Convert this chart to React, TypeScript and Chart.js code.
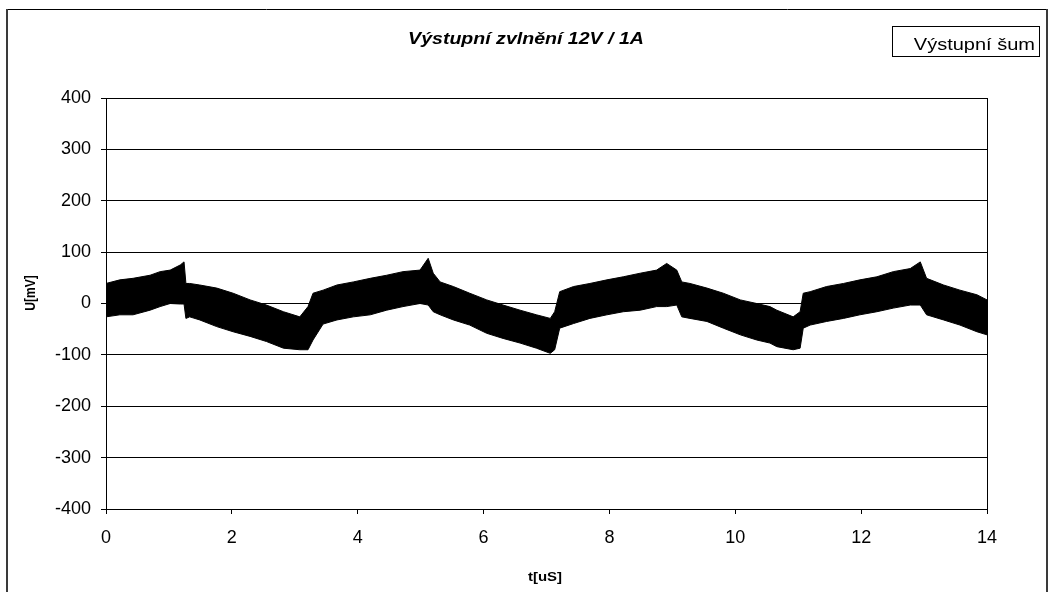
import React, { useEffect, useRef } from "react";
import { Chart, registerables } from "chart.js";

Chart.register(...registerables);

const TITLE = "Výstupní zvlnění 12V / 1A";
const SERIES_LABEL = "Výstupní šum";
const X_TITLE = "t[uS]";
const Y_TITLE = "U[mV]";
const X_TICKS = [0, 2, 4, 6, 8, 10, 12, 14];
const Y_TICKS = [-400, -300, -200, -100, 0, 100, 200, 300, 400];

// time [uS]
const T = [
  0.0, 0.22, 0.43, 0.7, 0.86, 1.02, 1.18, 1.24, 1.27, 1.33, 1.49, 1.76, 2.02, 2.29, 2.55, 2.82, 3.08, 3.21, 3.29,
  3.45, 3.67, 3.93, 4.2, 4.46, 4.72, 4.99, 5.12, 5.2, 5.31, 5.52, 5.78, 6.05, 6.31, 6.58, 6.84, 7.06, 7.13,
  7.21, 7.43, 7.69, 7.96, 8.22, 8.49, 8.75, 8.91, 9.07, 9.15, 9.28, 9.55, 9.81, 10.08, 10.34, 10.55, 10.66,
  10.92, 11.03, 11.08, 11.19, 11.45, 11.72, 11.98, 12.25, 12.51, 12.78, 12.94, 13.04, 13.31, 13.57, 13.84, 14.0,
];
// upper envelope of the noise [mV]
const HI = [
  39, 46, 49, 55, 62, 65, 75, 81, 39, 39, 36, 30, 20, 7, -3, -16, -26, -6, 20,
  26, 36, 42, 49, 55, 62, 65, 88, 59, 42, 33, 20, 7, -3, -13, -22, -29, -16,
  23, 33, 39, 46, 52, 59, 65, 78, 65, 42, 39, 30, 20, 7, 0, -6, -13,
  -26, -16, 20, 23, 33, 39, 46, 52, 62, 68, 81, 49, 36, 26, 17, 7,
];
// lower envelope of the noise [mV]
const LO = [
  -26, -22, -22, -13, -6, 0, -1, -1, -29, -26, -32, -45, -55, -64, -74, -87, -90, -90, -71,
  -40, -32, -26, -22, -13, -6, 0, -3, -16, -22, -32, -42, -58, -68, -77, -87, -97, -90,
  -48, -39, -29, -22, -16, -13, -6, -6, -3, -26, -29, -35, -48, -61, -71, -77, -84,
  -90, -87, -48, -42, -35, -29, -22, -16, -9, -3, -3, -22, -32, -42, -55, -61,
];

const FONT = '"Liberation Sans", Arial, sans-serif';

const decor = {
  id: "decor",
  afterDraw(chart: any) {
    const ctx = chart.ctx as CanvasRenderingContext2D;
    const ca = chart.chartArea;
    ctx.save();
    // outer frame
    ctx.strokeStyle = "#000";
    ctx.lineWidth = 1;
    ctx.beginPath();
    ctx.moveTo(6, 9.5);
    ctx.lineTo(1048, 9.5);
    ctx.stroke();
    ctx.strokeStyle = "#3a3a3a";
    ctx.lineWidth = 2;
    ctx.beginPath();
    ctx.moveTo(7, 9);
    ctx.lineTo(7, 592);
    ctx.moveTo(1047, 9);
    ctx.lineTo(1047, 592);
    ctx.stroke();
    // plot area right border
    ctx.strokeStyle = "#000";
    ctx.lineWidth = 1;
    ctx.beginPath();
    ctx.moveTo(Math.round(ca.right) + 0.5, ca.top);
    ctx.lineTo(Math.round(ca.right) + 0.5, ca.bottom);
    ctx.stroke();

    ctx.fillStyle = "#000";
    // title
    ctx.font = `italic bold 17px ${FONT}`;
    ctx.textAlign = "center";
    ctx.textBaseline = "alphabetic";
    ctx.save();
    ctx.translate(526, 44);
    ctx.scale(1.15, 1);
    ctx.fillText(TITLE, 0, 0);
    ctx.restore();

    // legend
    ctx.lineWidth = 1;
    ctx.strokeRect(892.5, 26.5, 147, 30);
    ctx.font = `16px ${FONT}`;
    ctx.textAlign = "right";
    ctx.save();
    ctx.translate(1035, 50);
    ctx.scale(1.25, 1);
    ctx.fillText(chart.data.datasets[0].label, 0, 0);
    ctx.restore();

    // x title
    ctx.font = `bold 13px ${FONT}`;
    ctx.textAlign = "center";
    ctx.save();
    ctx.translate(545, 581);
    ctx.scale(1.15, 1);
    ctx.fillText(X_TITLE, 0, 0);
    ctx.restore();

    // y title
    ctx.font = `bold 12px ${FONT}`;
    ctx.textBaseline = "middle";
    ctx.save();
    ctx.translate(31.5, 293);
    ctx.rotate(-Math.PI / 2);
    ctx.scale(1, 1.2);
    ctx.fillText(Y_TITLE, 0, 0);
    ctx.restore();

    ctx.restore();
  },
};

export default function App() {
  const ref = useRef<HTMLCanvasElement | null>(null);
  useEffect(() => {
    const canvas = ref.current!;
    const hiData = T.map((t, i) => ({ x: t, y: HI[i] }));
    const loData = T.map((t, i) => ({ x: t, y: LO[i] }));
    const chart = new Chart(canvas, {
      type: "line",
      data: {
        datasets: [
          {
            label: SERIES_LABEL,
            data: hiData,
            borderColor: "#000",
            backgroundColor: "#000",
            borderWidth: 1,
            pointRadius: 0,
            fill: false,
            tension: 0,
          },
          {
            label: SERIES_LABEL + " (min)",
            data: loData,
            borderColor: "#000",
            backgroundColor: "#000",
            borderWidth: 1,
            pointRadius: 0,
            fill: "-1",
            tension: 0,
          },
        ],
      },
      options: {
        animation: false,
        responsive: false,
        devicePixelRatio: 1,
        layout: { padding: { left: 0, top: 98, right: 67, bottom: 0 } },
        plugins: {
          legend: { display: false },
          title: { display: false },
          tooltip: { enabled: false },
        },
        scales: {
          x: {
            type: "linear",
            min: X_TICKS[0],
            max: X_TICKS[X_TICKS.length - 1],
            afterFit: (s: any) => {
              s.height = 83;
            },
            afterBuildTicks: (s: any) => {
              s.ticks = X_TICKS.map((v) => ({ value: v }));
            },
            ticks: {
              color: "#000",
              font: { family: FONT, size: 18 },
              padding: 13,
              maxRotation: 0,
            },
            grid: {
              drawOnChartArea: false,
              drawTicks: true,
              tickLength: 5,
              color: "#000",
            },
            border: { color: "#000", width: 1 },
          },
          y: {
            type: "linear",
            min: Y_TICKS[0],
            max: Y_TICKS[Y_TICKS.length - 1],
            afterFit: (s: any) => {
              s.width = 106;
            },
            afterBuildTicks: (s: any) => {
              s.ticks = Y_TICKS.map((v) => ({ value: v }));
            },
            ticks: {
              color: "#000",
              font: { family: FONT, size: 18 },
              padding: 10,
            },
            grid: {
              drawOnChartArea: true,
              drawTicks: true,
              tickLength: 5,
              color: "#000",
            },
            border: { color: "#000", width: 1 },
          },
        },
      },
      plugins: [decor],
    });
    return () => chart.destroy();
  }, []);
  return (
    <div style={{ position: "fixed", left: 0, top: 0, width: 1054, height: 592, background: "#fff" }}>
      <canvas ref={ref} width={1054} height={592} style={{ width: 1054, height: 592, display: "block" }} />
    </div>
  );
}
